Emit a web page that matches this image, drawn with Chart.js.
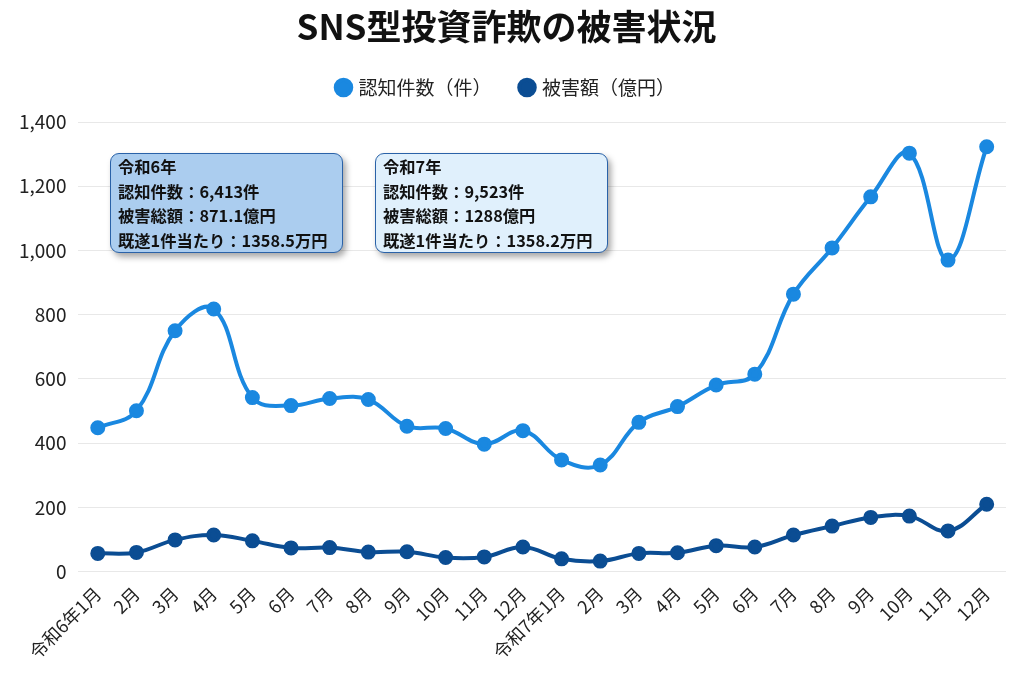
<!DOCTYPE html>
<html lang="ja">
<head>
  <meta charset="UTF-8" />
  <title>SNS型投資詐欺の被害状況</title>
  <script src="https://cdn.jsdelivr.net/npm/chart.js"></script>
  <style>
    html, body {
      margin: 0;
      padding: 0;
      background: #fff;
      font-family: "Noto Sans CJK JP", "Noto Sans", sans-serif;
    }
    #wrap {
      position: relative;
      width: 1024px;
      height: 683px;
    }
    .note {
      position: absolute;
      top: 153px;
      width: 233px;
      height: 100px;
      box-sizing: border-box;
      padding: 0 0 0 7px;
      border: 1.5px solid #2a62a8;
      border-radius: 9px;
      box-shadow: 3px 4px 6px rgba(0, 0, 0, 0.35);
      font-size: 16.3px;
      font-weight: bold;
      line-height: 24.5px;
      color: #111;
      white-space: nowrap;
    }
  </style>
</head>
<body>
<div id="wrap">
  <canvas id="chart" width="1024" height="683"></canvas>
  <div class="note" style="left:110px; background:#abcdef;">
    令和6年<br>認知件数：6,413件<br>被害総額：871.1億円<br>既遂1件当たり：1358.5万円
  </div>
  <div class="note" style="left:375px; background:#e0f0fc;">
    令和7年<br>認知件数：9,523件<br>被害総額：1288億円<br>既遂1件当たり：1358.2万円
  </div>
</div>

<script>
  const months = ['令和6年1月', '2月', '3月', '4月', '5月', '6月', '7月', '8月', '9月', '10月', '11月', '12月',
                  '令和7年1月', '2月', '3月', '4月', '5月', '6月', '7月', '8月', '9月', '10月', '11月', '12月'];
  // 認知件数（件）
  const cases = [448, 501, 750, 818, 542, 517, 539, 536, 453, 446, 397, 439,
                 348, 332, 465, 514, 581, 615, 864, 1008, 1167, 1303, 970, 1323];
  // 被害額（億円）
  const damage = [57, 60, 99, 114, 96, 74, 75, 61, 62, 44, 46, 77,
                  40, 33, 57, 59, 81, 77, 114, 142, 169, 173, 127, 210];

  const font = "'Noto Sans CJK JP', 'Noto Sans', sans-serif";
  Chart.defaults.font.family = font;
  Chart.defaults.color = '#222';

  // a bit more room under the legend
  const legendGap = {
    id: 'legendGap',
    beforeInit(chart) {
      const fit = chart.legend.fit;
      chart.legend.fit = function () {
        fit.bind(chart.legend)();
        this.height += 15;
      };
    }
  };

  new Chart(document.getElementById('chart').getContext('2d'), {
    type: 'line',
    data: {
      labels: months,
      datasets: [
        {
          label: '認知件数（件）',
          data: cases,
          borderColor: '#1a88e0',
          backgroundColor: '#1a88e0',
          borderWidth: 4,
          pointRadius: 5.5,
          tension: 0.4
        },
        {
          label: '被害額（億円）',
          data: damage,
          borderColor: '#0b4d93',
          backgroundColor: '#0b4d93',
          borderWidth: 4,
          pointRadius: 5.5,
          tension: 0.4
        }
      ]
    },
    options: {
      responsive: false,
      animation: false,
      layout: { padding: { left: 7, right: 18, top: 0, bottom: 17 } },
      plugins: {
        title: {
          display: true,
          text: 'SNS型投資詐欺の被害状況',
          font: { size: 35, weight: 'bold' },
          color: '#111',
          padding: { top: 6, bottom: 0 }
        },
        legend: {
          labels: {
            usePointStyle: true,
            pointStyle: 'circle',
            boxWidth: 11,
            boxHeight: 11,
            padding: 30,
            font: { size: 19 }
          }
        },
        tooltip: { enabled: false }
      },
      scales: {
        x: {
          offset: true,
          grid: { display: false },
          border: { display: false },
          ticks: {
            maxRotation: 45,
            minRotation: 45,
            autoSkip: false,
            font: { size: 18 },
            color: '#222'
          }
        },
        y: {
          min: 0,
          max: 1400,
          ticks: {
            stepSize: 200,
            font: { size: 19 },
            color: '#222',
            padding: 12
          },
          grid: { color: '#e8e8e8', drawTicks: false },
          border: { display: false }
        }
      }
    },
    plugins: [legendGap]
  });
</script>
</body>
</html>
